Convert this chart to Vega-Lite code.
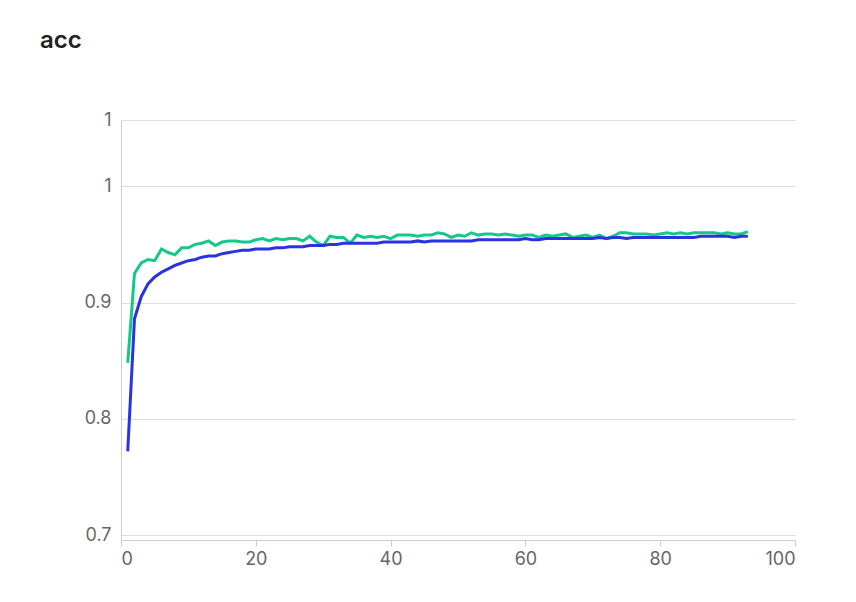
{
  "$schema": "https://vega.github.io/schema/vega-lite/v6.json",
  "width": 674,
  "height": 420,
  "autosize": "none",
  "padding": {"left": 121, "top": 120, "right": 61, "bottom": 62},
  "background": "#ffffff",
  "title": {"text": "acc", "anchor": "start", "frame": "group", "dx": -81, "offset": 58, "fontSize": 24, "font": "Inter", "fontWeight": 600, "color": "#222222"},
  "data": {"values": [
    {"e":1,"a":0.848,"b":0.772},{"e":2,"a":0.925,"b":0.886},{"e":3,"a":0.934,"b":0.905},{"e":4,"a":0.937,"b":0.916},{"e":5,"a":0.936,"b":0.922},
    {"e":6,"a":0.946,"b":0.926},{"e":7,"a":0.943,"b":0.929},{"e":8,"a":0.941,"b":0.932},{"e":9,"a":0.947,"b":0.934},{"e":10,"a":0.947,"b":0.936},
    {"e":11,"a":0.950,"b":0.937},{"e":12,"a":0.951,"b":0.939},{"e":13,"a":0.953,"b":0.940},{"e":14,"a":0.949,"b":0.940},{"e":15,"a":0.952,"b":0.942},
    {"e":16,"a":0.953,"b":0.943},{"e":17,"a":0.953,"b":0.944},{"e":18,"a":0.952,"b":0.945},{"e":19,"a":0.952,"b":0.945},{"e":20,"a":0.954,"b":0.946},
    {"e":21,"a":0.955,"b":0.946},{"e":22,"a":0.953,"b":0.946},{"e":23,"a":0.955,"b":0.947},{"e":24,"a":0.954,"b":0.947},{"e":25,"a":0.955,"b":0.948},
    {"e":26,"a":0.955,"b":0.948},{"e":27,"a":0.953,"b":0.948},{"e":28,"a":0.957,"b":0.949},{"e":29,"a":0.952,"b":0.949},{"e":30,"a":0.949,"b":0.949},
    {"e":31,"a":0.957,"b":0.950},{"e":32,"a":0.956,"b":0.950},{"e":33,"a":0.956,"b":0.951},{"e":34,"a":0.951,"b":0.951},{"e":35,"a":0.958,"b":0.951},
    {"e":36,"a":0.956,"b":0.951},{"e":37,"a":0.957,"b":0.951},{"e":38,"a":0.956,"b":0.951},{"e":39,"a":0.957,"b":0.952},{"e":40,"a":0.955,"b":0.952},
    {"e":41,"a":0.958,"b":0.952},{"e":42,"a":0.958,"b":0.952},{"e":43,"a":0.958,"b":0.952},{"e":44,"a":0.957,"b":0.953},{"e":45,"a":0.958,"b":0.952},
    {"e":46,"a":0.958,"b":0.953},{"e":47,"a":0.960,"b":0.953},{"e":48,"a":0.959,"b":0.953},{"e":49,"a":0.956,"b":0.953},{"e":50,"a":0.958,"b":0.953},
    {"e":51,"a":0.957,"b":0.953},{"e":52,"a":0.960,"b":0.953},{"e":53,"a":0.958,"b":0.954},{"e":54,"a":0.959,"b":0.954},{"e":55,"a":0.959,"b":0.954},
    {"e":56,"a":0.958,"b":0.954},{"e":57,"a":0.959,"b":0.954},{"e":58,"a":0.958,"b":0.954},{"e":59,"a":0.957,"b":0.954},{"e":60,"a":0.958,"b":0.955},
    {"e":61,"a":0.958,"b":0.954},{"e":62,"a":0.956,"b":0.954},{"e":63,"a":0.958,"b":0.955},{"e":64,"a":0.957,"b":0.955},{"e":65,"a":0.958,"b":0.955},
    {"e":66,"a":0.959,"b":0.955},{"e":67,"a":0.956,"b":0.955},{"e":68,"a":0.957,"b":0.955},{"e":69,"a":0.958,"b":0.955},{"e":70,"a":0.956,"b":0.955},
    {"e":71,"a":0.958,"b":0.956},{"e":72,"a":0.955,"b":0.955},{"e":73,"a":0.957,"b":0.956},{"e":74,"a":0.960,"b":0.956},{"e":75,"a":0.960,"b":0.955},
    {"e":76,"a":0.959,"b":0.956},{"e":77,"a":0.959,"b":0.956},{"e":78,"a":0.959,"b":0.956},{"e":79,"a":0.958,"b":0.956},{"e":80,"a":0.959,"b":0.956},
    {"e":81,"a":0.960,"b":0.956},{"e":82,"a":0.959,"b":0.956},{"e":83,"a":0.960,"b":0.956},{"e":84,"a":0.959,"b":0.956},{"e":85,"a":0.960,"b":0.956},
    {"e":86,"a":0.960,"b":0.957},{"e":87,"a":0.960,"b":0.957},{"e":88,"a":0.960,"b":0.957},{"e":89,"a":0.959,"b":0.957},{"e":90,"a":0.960,"b":0.957},
    {"e":91,"a":0.959,"b":0.956},{"e":92,"a":0.959,"b":0.957},{"e":93,"a":0.961,"b":0.957}
  ]},
  "transform": [{"fold": ["a", "b"], "as": ["series", "acc"]}],
  "mark": {"type": "line", "strokeWidth": 3, "interpolate": "linear"},
  "encoding": {
    "x": {"field": "e", "type": "quantitative", "scale": {"domain": [0, 100], "nice": false},
      "axis": {"values": [0, 20, 40, 60, 80, 100], "title": null, "grid": false, "domainColor": "#cccccc", "tickColor": "#cccccc", "tickSize": 6, "labelFontSize": 18, "labelColor": "#666666", "labelFont": "Inter", "labelPadding": 4}},
    "y": {"field": "acc", "type": "quantitative", "scale": {"domain": [0.6957, 1.057], "nice": false, "zero": false},
      "axis": {"values": [0.7, 0.8, 0.9, 1, 1.057], "format": "~g", "title": null, "grid": true, "gridColor": "#dddddd", "domainColor": "#cccccc", "ticks": false, "labelFontSize": 18, "labelColor": "#666666", "labelFont": "Inter", "labelPadding": 10}},
    "color": {"field": "series", "type": "nominal", "scale": {"domain": ["a", "b"], "range": ["#14c88b", "#2b33e0"]}, "legend": null}
  },
  "config": {"view": {"stroke": null}}
}
